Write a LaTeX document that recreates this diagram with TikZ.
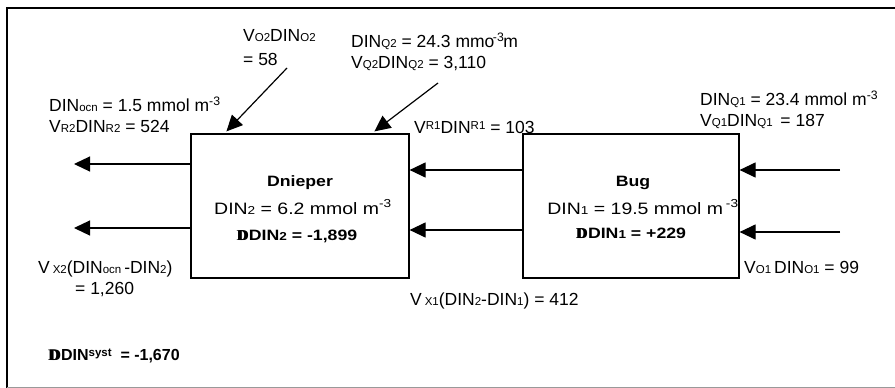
\documentclass[tikz,border=0pt]{standalone}
\usepackage{fontspec}
\setmainfont{Liberation Sans}
\newfontfamily\deltafont{Liberation Serif}
\newfontfamily\widefont[FakeStretch=1.18]{Liberation Sans}
\usepackage{tikz}
\usetikzlibrary{arrows.meta}

\newcommand\lo[1]{{\fontsize{11.5}{11.5}\selectfont #1}}
\newcommand\hi[1]{\raisebox{4pt}{\fontsize{11.5}{11.5}\selectfont #1}}
\newcommand\cube{\textsuperscript{-3}}
\newcommand\dD{{\deltafont\bfseries\rlap{D}\kern1.3pt D}}

\begin{document}
\begin{tikzpicture}[x=1pt, y=-1pt,
    lbl/.style={anchor=west, inner sep=0pt, align=left,
      font=\fontsize{17.5}{21}\selectfont},
    boxtxt/.style={inner sep=0pt, font=\widefont\fontsize{16.5}{18}\selectfont},
    boxhead/.style={inner sep=0pt, font=\widefont\fontsize{15}{18}\selectfont\bfseries},
    basin/.style={draw, line width=1.2pt, minimum width=218pt, minimum height=144pt},
    flow/.style={line width=1.2pt, -{Triangle[length=16pt, width=15pt]}}]
  \useasboundingbox (0,0) rectangle (895,388);
  % frame
  \draw[line width=1.2pt] (7,388) -- (7,8) -- (897,8);
  \draw[line width=1pt, black!40] (7,387) -- (897,387);

  % the two basins
  \node[basin] (dnieper) at (300,206) {};
  \node[basin, minimum width=216pt] (bug) at (631,206) {};

  \node[boxhead] (dnlbl) at (300,183) {Dnieper};
  \node[boxtxt] (dndin) at (303,207) {DIN\lo{2} = 6.2 mmol m\cube};
  \node[boxhead] (dnbal) at (297,236) {\dD DIN\lo{2} = -1,899};
  \node[boxhead] (buglbl) at (633,183) {Bug};
  \node[boxtxt] (bugdin) at (643,207) {DIN\lo{1} = 19.5 mmol m\,\cube};
  \node[boxhead] (bugbal) at (631,233) {\dD DIN\lo{1} = +229};

  % free ends
  \coordinate (outR) at (74,164);
  \coordinate (outX) at (74,228);
  \coordinate (midR) at (0,170);
  \coordinate (midX) at (0,230);
  \coordinate (inQ1) at (840,170);
  \coordinate (inO1) at (840,232);
  \coordinate (inO2) at (287,68);
  \coordinate (inQ2) at (438,83);

  \draw[flow] (dnieper.west |- outR) -- (outR);
  \draw[flow] (dnieper.west |- outX) -- (outX);
  \draw[flow] (bug.west |- midR) -- (dnieper.east |- midR);
  \draw[flow] (bug.west |- midX) -- (dnieper.east |- midX);
  \draw[flow] (inQ1) -- (bug.east |- inQ1);
  \draw[flow] (inO1) -- (bug.east |- inO1);
  \draw[flow] (inO2) -- ([xshift=36pt, yshift=2pt]dnieper.north west);
  \draw[flow] (inQ2) -- ([xshift=184pt, yshift=2pt]dnieper.north west);

  % flux labels
  \node[lbl] (o2) at (243,48) {V\lo{O2}DIN\lo{O2}\\[3pt]= 58};
  \node[lbl] (q2) at (351,52) {DIN\lo{Q2} = 24.3 mmo\kern-1.5pt\cube\kern-1pt m\\V\lo{Q2}DIN\lo{Q2} = 3,110};
  \node[lbl] (r2) at (49,115) {DIN\lo{ocn} = 1.5 mmol m\cube\\V\lo{R2}DIN\lo{R2} = 524};
  \node[lbl] (r1) at (414,127) {V\hi{R1}DIN\hi{R1} = 103};
  \node[lbl] (q1) at (700,110) {DIN\lo{Q1} = 23.4 mmol m\cube\\V\lo{Q1}DIN\lo{Q1}\, = 187};
  \node[lbl] (x2) at (38,269) {V\,\lo{X2}(DIN\lo{ocn}\,-DIN\lo{2})};
  \node[lbl] (x2b) at (75,290) {= 1,260};
  \node[lbl] (x1) at (410,301) {V\,\lo{X1}(DIN\lo{2}-DIN\lo{1}) = 412};
  \node[lbl] (o1) at (744,267) {V\lo{O1}\,DIN\lo{O1} = 99};
  \node[lbl, font=\fontsize{16}{21}\selectfont\bfseries] (syst) at (48,356) {\dD DIN\hi{syst}\ \ = -1,670};
\end{tikzpicture}
\end{document}
